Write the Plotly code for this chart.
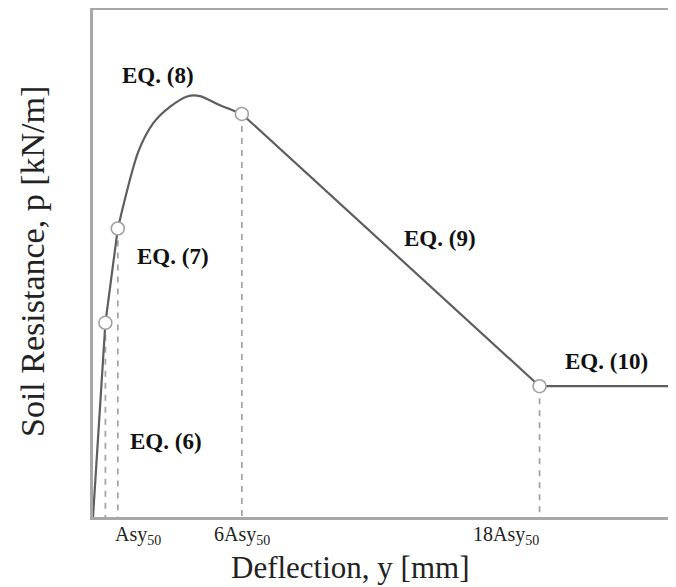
import plotly.graph_objects as go

# Deflection in units of A*s*y50, resistance normalised (0..1 of axis height)
curve_x = [0, 0.5, 1.0, 1.83, 2.43, 3.10, 3.83, 4.31, 5.12, 6.0, 18.0, 23.5]
curve_y = [0, 0.383, 0.569, 0.721, 0.777, 0.809, 0.830, 0.830, 0.812, 0.795, 0.258, 0.258]

key_x = [0.5, 1.0, 6.0, 18.0]
key_y = [0.383, 0.569, 0.795, 0.258]

tick_labels = ["Asy<sub>50</sub>", "6Asy<sub>50</sub>", "18Asy<sub>50</sub>"]
tick_label_x = [1.83, 6.0, 16.63]

eq_labels = ["EQ. (6)", "EQ. (7)", "EQ. (8)", "EQ. (9)", "EQ. (10)"]
eq_x = [2.94, 3.23, 2.62, 13.99, 20.69]
eq_y = [0.148, 0.513, 0.870, 0.550, 0.306]

X_MAX = 23.5
SERIF = "Liberation Serif, Times New Roman, serif"

fig = go.Figure()

# dashed drop lines
for kx, ky in zip(key_x, key_y):
    fig.add_trace(go.Scatter(x=[kx, kx], y=[ky, 0], mode="lines",
                             line=dict(color="#a5a5a5", width=1.8, dash="6px,6px"),
                             hoverinfo="skip", showlegend=False))

# rising part, curved part (spline), straight parts
fig.add_trace(go.Scatter(x=curve_x[:3], y=curve_y[:3], mode="lines",
                         line=dict(color="#5e5e5e", width=2.2), showlegend=False))
fig.add_trace(go.Scatter(x=curve_x[2:10], y=curve_y[2:10], mode="lines",
                         line=dict(color="#5e5e5e", width=2.2, shape="spline", smoothing=0.8),
                         showlegend=False))
fig.add_trace(go.Scatter(x=curve_x[9:], y=curve_y[9:], mode="lines",
                         line=dict(color="#5e5e5e", width=2.2), showlegend=False))

fig.add_trace(go.Scatter(x=key_x, y=key_y, mode="markers",
                         marker=dict(symbol="circle", size=13, color="white",
                                     line=dict(color="#a0a0a0", width=1.6)),
                         showlegend=False))

annotations = []
for t, x, y in zip(eq_labels, eq_x, eq_y):
    annotations.append(dict(x=x, y=y, xref="x", yref="y", text="<b>" + t + "</b>",
                            xanchor="center", yanchor="middle",
                            showarrow=False, font=dict(family=SERIF, size=23, color="#111")))
for t, x in zip(tick_labels, tick_label_x):
    annotations.append(dict(x=x / X_MAX, y=-0.036, xref="paper", yref="paper", text=t,
                            xanchor="center", yanchor="middle",
                            showarrow=False, font=dict(family=SERIF, size=20, color="#222")))
annotations.append(dict(x=0.4408, y=-0.100, xref="paper", yref="paper", text="Deflection, y [mm]",
                        xanchor="center", yanchor="middle",
                        showarrow=False, font=dict(family=SERIF, size=31, color="#222")))
annotations.append(dict(x=-0.1029, y=0.503, xref="paper", yref="paper",
                        text="Soil Resistance, p [kN/m]",
                        xanchor="center", yanchor="middle",
                        textangle=-90, showarrow=False,
                        font=dict(family=SERIF, size=34, color="#222")))

fig.update_layout(
    width=668, height=579,
    margin=dict(l=85, r=0, t=2, b=70),
    paper_bgcolor="white", plot_bgcolor="white",
    showlegend=False,
    annotations=annotations,
    xaxis=dict(range=[0, X_MAX], showgrid=False, zeroline=False, showticklabels=False,
               ticks="", showline=True, mirror=True, linecolor="#a8a8a8", linewidth=2.5),
    yaxis=dict(range=[0, 1], showgrid=False, zeroline=False, showticklabels=False,
               ticks="", showline=True, mirror=False, linecolor="#a8a8a8", linewidth=2.5),
)

fig.write_html("out.html")
